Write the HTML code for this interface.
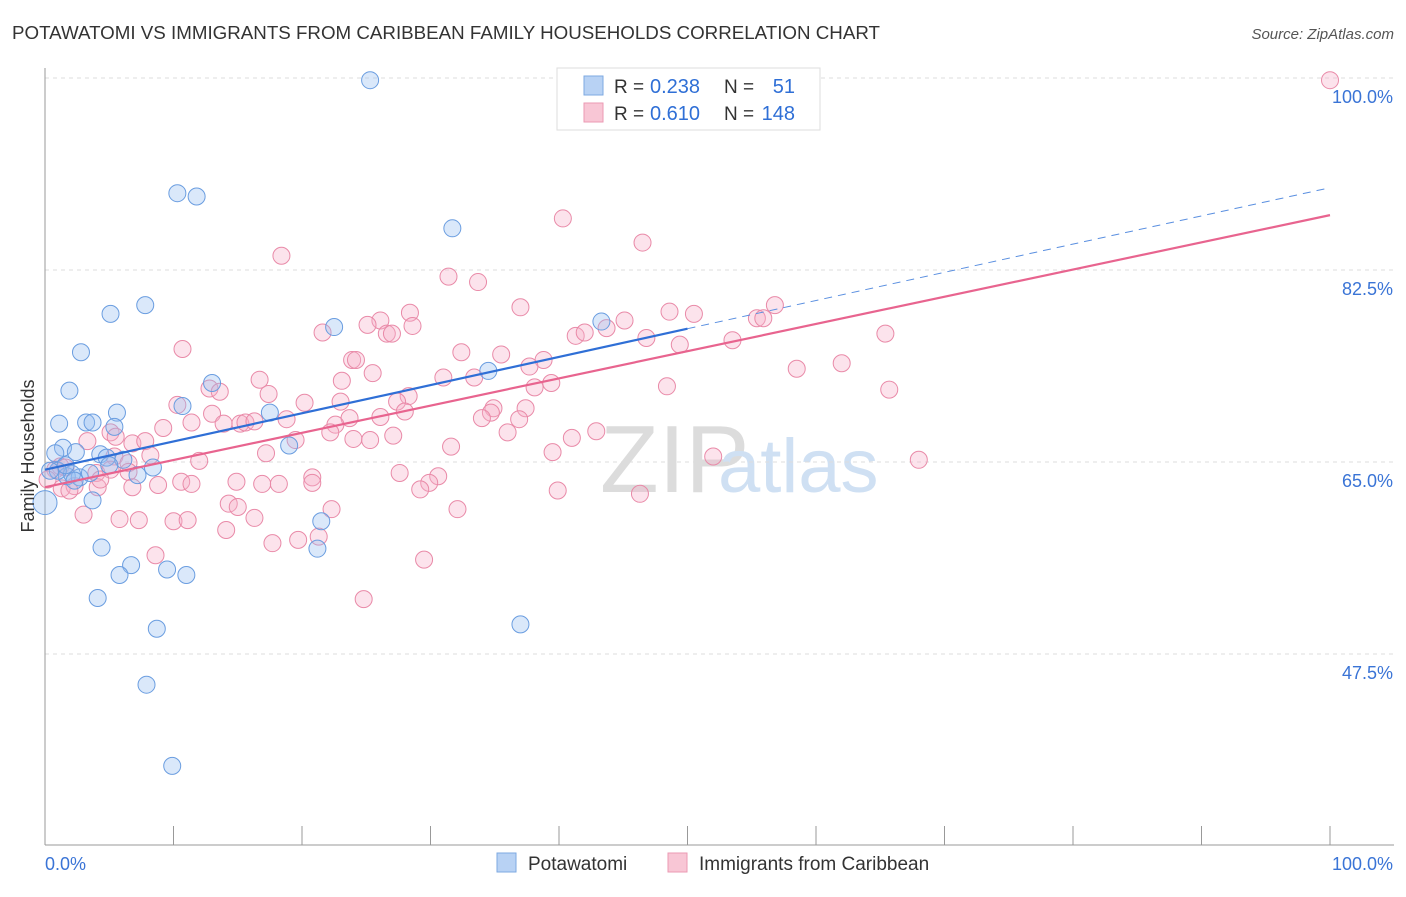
<!DOCTYPE html>
<html><head><meta charset="utf-8">
<style>
body{margin:0;background:#fff;font-family:"Liberation Sans",sans-serif;}
svg text{font-family:"Liberation Sans",sans-serif;}
</style></head>
<body>
<svg id="chart" width="1406" height="892" viewBox="0 0 1406 892" xmlns="http://www.w3.org/2000/svg">
<text x="12" y="39" font-size="18" fill="#333" textLength="868" lengthAdjust="spacingAndGlyphs">POTAWATOMI VS IMMIGRANTS FROM CARIBBEAN FAMILY HOUSEHOLDS CORRELATION CHART</text>
<text x="1394" y="39" font-size="15" fill="#555" font-style="italic" text-anchor="end">Source: ZipAtlas.com</text>
<text x="600" y="492" font-size="96" fill="#dcdcdc" font-family="Liberation Serif">ZIP</text>
<text x="718" y="492" font-size="76" fill="#cfe0f3">atlas</text>
<g id="grid"></g>
<g id="axes"></g>
<g id="pts"></g>
<g id="lines"></g>
<text transform="translate(34,456) rotate(-90)" font-size="18" fill="#333" text-anchor="middle">Family Households</text>
<g>
<rect x="557" y="68" width="263" height="62" fill="#fff" stroke="#ddd"/>
<rect x="584" y="76" width="19" height="19" fill="#b8d2f4" stroke="#7ea9e2"/>
<rect x="584" y="103" width="19" height="19" fill="#f8c6d5" stroke="#eb9ab3"/>
<text x="614" y="93" font-size="19" fill="#333">R =</text>
<text x="650" y="93" font-size="20" fill="#2f6fd6">0.238</text>
<text x="724" y="93" font-size="19" fill="#333">N =</text>
<text x="795" y="93" font-size="20" fill="#2f6fd6" text-anchor="end">51</text>
<text x="614" y="120" font-size="19" fill="#333">R =</text>
<text x="650" y="120" font-size="20" fill="#2f6fd6">0.610</text>
<text x="724" y="120" font-size="19" fill="#333">N =</text>
<text x="795" y="120" font-size="20" fill="#2f6fd6" text-anchor="end">148</text>
</g>
<g>
<rect x="497" y="853" width="19" height="19" fill="#b8d2f4" stroke="#7ea9e2"/>
<text x="528" y="870" font-size="19" fill="#333">Potawatomi</text>
<rect x="668" y="853" width="19" height="19" fill="#f8c6d5" stroke="#eb9ab3"/>
<text x="699" y="870" font-size="19" fill="#333">Immigrants from Caribbean</text>
</g>
</svg>
<script>
const yTicks=[100,82.5,65,47.5];
const yTickLabels=["100.0%","82.5%","65.0%","47.5%"];
const blueX=[25.3,10.3,11.8,31.7,7.8,5.1,2.8,1.9,43.3,22.5,34.5,13.0,10.7,17.5,5.6,1.1,3.2,3.7,5.4,1.4,19.0,4.3,2.4,4.8,6.1,8.4,7.2,1.7,2.7,2.1,1.0,3.7,0,21.5,21.2,4.4,6.7,5.8,9.5,11.0,4.1,8.7,37.0,7.9,9.9,0.8,1.6,2.3,3.5,5.0,0.4];
const blueY=[99.8,89.5,89.2,86.3,79.3,78.5,75.0,71.5,77.8,77.3,73.3,72.2,70.1,69.5,69.5,68.5,68.6,68.6,68.2,66.3,66.5,65.7,65.9,65.4,65.2,64.5,63.8,63.7,63.6,63.9,64.2,61.5,61.3,59.6,57.1,57.2,55.6,54.7,55.2,54.7,52.6,49.8,50.2,44.7,37.3,65.8,64.7,63.3,64.0,64.7,64.2];
const pinkX=[100,40.3,46.5,18.4,31.4,33.7,37.0,48.6,50.5,56.8,55.4,55.9,45.1,28.4,26.1,25.1,28.6,21.6,26.6,27.0,41.3,43.7,42.0,46.8,53.5,49.4,65.4,10.7,32.4,35.5,23.9,24.2,38.8,37.7,25.5,31.0,33.4,58.5,62.0,16.7,23.1,39.4,38.1,48.4,65.7,12.8,13.6,17.4,28.3,10.3,20.2,23.0,27.4,34.9,37.4,28.0,34.7,34.0,36.9,13.0,18.8,23.7,26.1,11.4,15.2,13.9,15.6,16.3,9.2,22.6,5.1,5.5,22.2,36.0,42.9,41.0,27.1,24.0,25.3,19.5,3.3,6.8,7.8,31.6,17.2,39.5,8.2,5.4,12.0,6.5,52.0,68.0,1.2,1.6,4.0,27.6,30.6,20.8,6.5,14.9,10.6,8.8,20.8,29.9,11.4,16.9,18.2,4.1,6.8,1.3,2.3,29.2,39.9,46.3,14.3,15.0,22.3,32.1,3.0,5.8,7.3,10.0,11.1,16.3,14.1,21.3,17.7,19.7,8.6,29.5,24.8,0.8,1.9,0.2,5.1,4.3];
const pinkY=[99.8,87.2,85.0,83.8,81.9,81.4,79.1,78.7,78.5,79.3,78.1,78.1,77.9,78.6,77.9,77.5,77.4,76.8,76.7,76.7,76.5,77.2,76.8,76.3,76.1,75.7,76.7,75.3,75.0,74.8,74.3,74.3,74.3,73.7,73.1,72.7,72.7,73.5,74.0,72.5,72.4,72.2,71.8,71.9,71.6,71.7,71.4,71.2,71.0,70.2,70.4,70.5,70.5,69.9,69.9,69.6,69.5,69.0,68.9,69.4,68.9,69.0,69.1,68.6,68.5,68.5,68.6,68.7,68.1,68.4,67.7,67.3,67.7,67.7,67.8,67.2,67.4,67.1,67.0,67.0,66.9,66.7,66.9,66.4,65.8,65.9,65.6,65.5,65.1,64.9,65.5,65.2,64.6,64.5,64.0,64.0,63.7,63.6,64.1,63.2,63.2,62.9,63.1,63.1,63.0,63.0,63.0,62.7,62.7,62.6,62.8,62.5,62.4,62.1,61.2,60.9,60.7,60.7,60.2,59.8,59.7,59.6,59.7,59.9,58.8,58.2,57.6,57.9,56.5,56.1,52.5,64.3,62.4,63.4,64.3,63.4];
const blueLine=[64.3,90.0];
const pinkLine=[62.7,87.5];
const NS="http://www.w3.org/2000/svg";
const X=v=>45+v*12.85;
const Y=v=>78+(100-v)*10.971;
function mk(tag,attrs,parent){const e=document.createElementNS(NS,tag);for(const k in attrs)e.setAttribute(k,attrs[k]);parent.appendChild(e);return e;}
const grid=document.getElementById('grid'),axes=document.getElementById('axes'),pts=document.getElementById('pts'),lines=document.getElementById('lines');
yTicks.forEach((t,i)=>{
  const l=mk('line',{x1:45,x2:1394,y1:Y(t),y2:Y(t),stroke:'#ddd','stroke-dasharray':'4,4'},grid);
  
  
  const tx=mk('text',{x:1393,y:Y(t)+25,'font-size':18,fill:'#3a74d6','text-anchor':'end'},axes);
  tx.textContent=yTickLabels[i];
  
  
});
const ax=mk('line',{x1:45,x2:45,y1:68,y2:845,stroke:'#999'},axes);


const bx=mk('line',{x1:45,x2:1394,y1:845,y2:845,stroke:'#999'},axes);


for(let i=0;i<=10;i++){
  const t=mk('line',{x1:X(i*10),x2:X(i*10),y1:826,y2:845,stroke:'#999'},axes);
  
  
}
const xl=mk('text',{x:45,y:870,'font-size':18,fill:'#3a74d6'},axes);xl.textContent='0.0%';


const xr=mk('text',{x:1393,y:870,'font-size':18,fill:'#3a74d6','text-anchor':'end'},axes);xr.textContent='100.0%';


pinkX.forEach((x,i)=>{
  const c=mk('circle',{cx:X(x),cy:Y(pinkY[i]),r:8.5,fill:'rgba(246,176,200,0.35)',stroke:'#e98aa8','stroke-width':1},pts);
  
  
});
blueX.forEach((x,i)=>{
  const c=mk('circle',{cx:X(x),cy:Y(blueY[i]),r:i==32?12:8.5,fill:'rgba(150,190,240,0.35)',stroke:'#6a9de0','stroke-width':1},pts);
  
  
});
const bm=blueLine[0]+(blueLine[1]-blueLine[0])*0.5;
const b1=mk('line',{x1:X(0),y1:Y(blueLine[0]),x2:X(50),y2:Y(bm),stroke:'#2f6fd6','stroke-width':2.2},lines);


const b2=mk('line',{x1:X(50),y1:Y(bm),x2:X(100),y2:Y(blueLine[1]),stroke:'#5a8fe0','stroke-width':1,'stroke-dasharray':'8,6'},lines);


const p1=mk('line',{x1:X(0),y1:Y(pinkLine[0]),x2:X(100),y2:Y(pinkLine[1]),stroke:'#e8648f','stroke-width':2.2},lines);


</script>
</body></html>
